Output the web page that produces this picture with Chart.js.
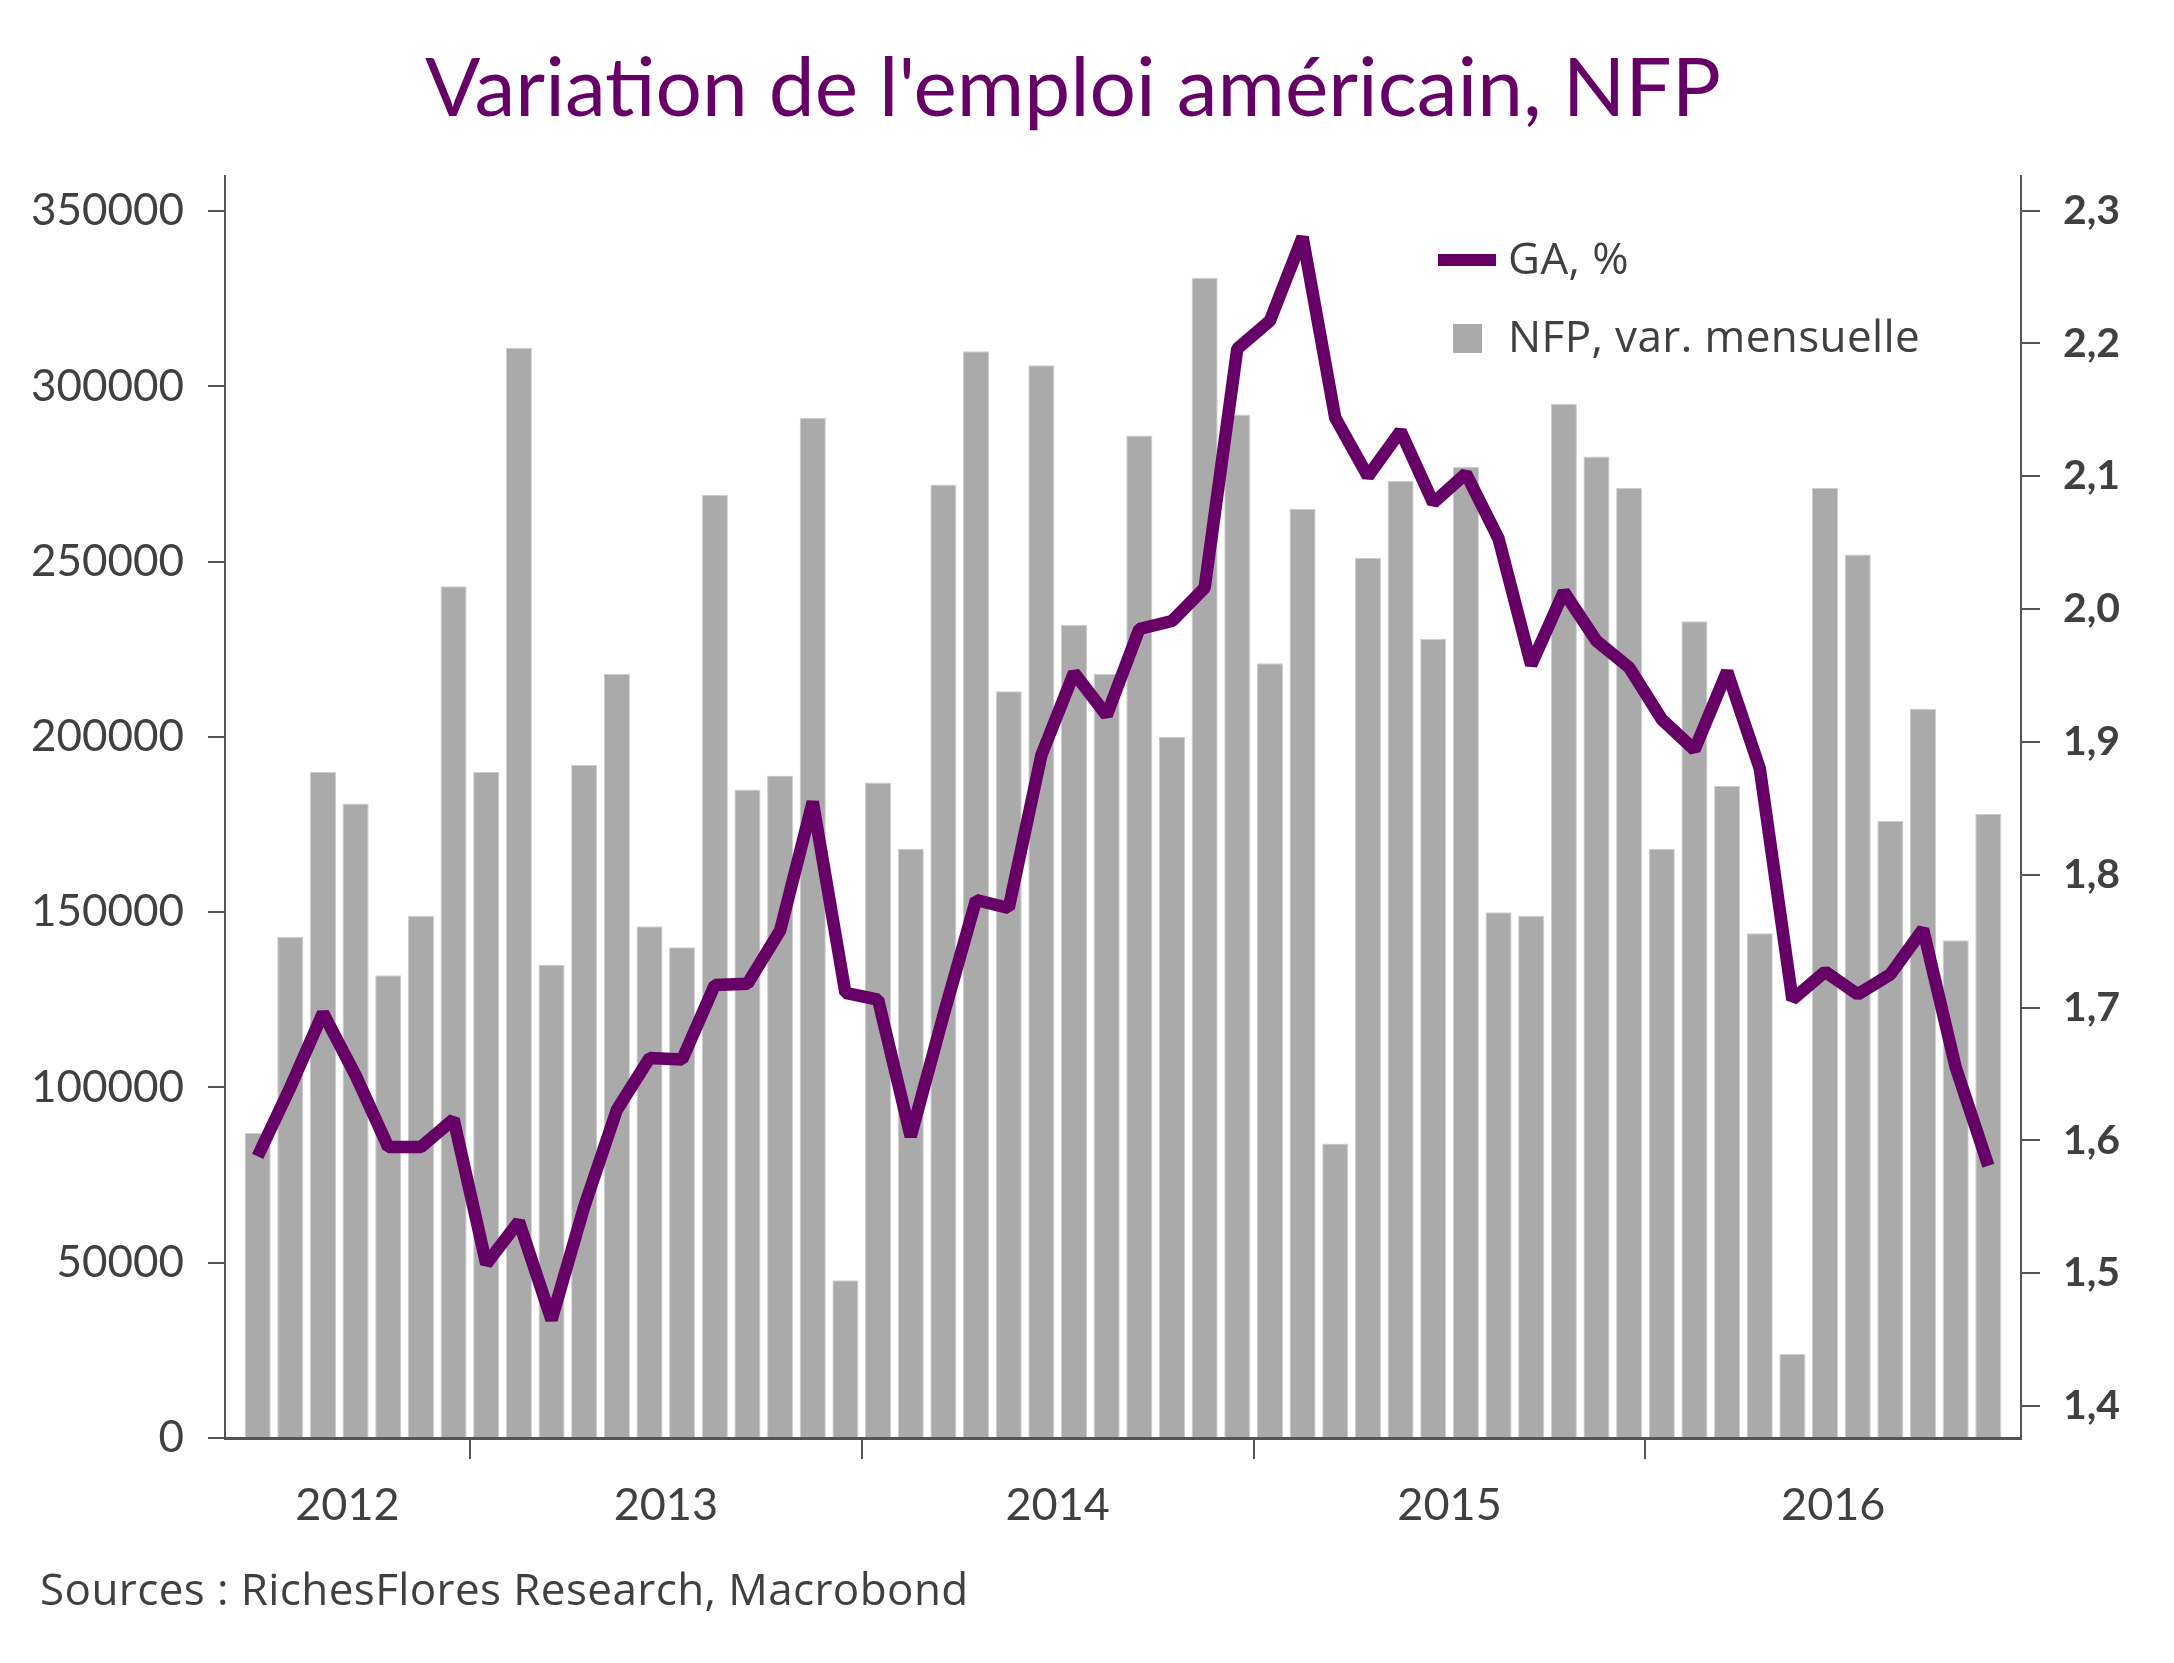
<!DOCTYPE html>
<html>
<head>
<meta charset="utf-8">
<script src="https://cdn.jsdelivr.net/npm/chart.js@4.4.1/dist/chart.umd.min.js"></script>
<style>
  html, body { margin: 0; padding: 0; background: #ffffff; }
  #wrap { position: relative; width: 2174px; height: 1663px; overflow: hidden; }
  #chart { position: absolute; left: 0; top: 0; }
  .txt { position: absolute; white-space: nowrap; }
  #title { left: -14px; width: 2174px; top: 34px; text-align: center; font-family: Lato, sans-serif; font-size: 82px; line-height: 100px; color: #660066; }
  #sources { left: 40px; top: 1560px; font-family: "Open Sans", sans-serif; font-size: 44px; letter-spacing: 0.4px; line-height: 56px; color: #404040; }
  .legtxt { font-family: "Open Sans", sans-serif; font-size: 44px; letter-spacing: 0.4px; line-height: 50px; color: #404040; left: 1508px; }
  #legLine { position: absolute; left: 1438px; top: 254px; width: 58px; height: 12px; background: #660066; }
  #legSq { position: absolute; left: 1453px; top: 324px; width: 29px; height: 29px; background: #aaaaaa; }
</style>
</head>
<body>
<div id="wrap">
  <canvas id="chart" width="2174" height="1663"></canvas>
  <div id="title" class="txt">Variation de l'emploi américain, NFP</div>
  <div id="legLine"></div>
  <div class="txt legtxt" style="top:232px;">GA, %</div>
  <div id="legSq"></div>
  <div class="txt legtxt" style="top:310px;">NFP, var. mensuelle</div>
  <div id="sources" class="txt">Sources : RichesFlores Research, Macrobond</div>
</div>
<script>
// ---- Data ----
const months = [
  '2012-06','2012-07','2012-08','2012-09','2012-10','2012-11','2012-12',
  '2013-01','2013-02','2013-03','2013-04','2013-05','2013-06','2013-07','2013-08','2013-09','2013-10','2013-11','2013-12',
  '2014-01','2014-02','2014-03','2014-04','2014-05','2014-06','2014-07','2014-08','2014-09','2014-10','2014-11','2014-12',
  '2015-01','2015-02','2015-03','2015-04','2015-05','2015-06','2015-07','2015-08','2015-09','2015-10','2015-11','2015-12',
  '2016-01','2016-02','2016-03','2016-04','2016-05','2016-06','2016-07','2016-08','2016-09','2016-10','2016-11'
];
// Axis range extends one month on each side of the data
const axisStart = '2012-05';
const axisEnd = '2016-12';

const nfp = [
  87000,143000,190000,181000,132000,149000,243000,
  190000,311000,135000,192000,218000,146000,140000,269000,185000,189000,291000,45000,
  187000,168000,272000,310000,213000,306000,232000,218000,286000,200000,331000,292000,
  221000,265000,84000,251000,273000,228000,277000,150000,149000,295000,280000,271000,
  168000,233000,186000,144000,24000,271000,252000,176000,208000,142000,178000
];
const ga = [
  1.588,1.640,1.696,1.649,1.595,1.595,1.616,
  1.507,1.539,1.465,1.550,1.623,1.662,1.661,1.717,1.718,1.758,1.855,1.711,
  1.706,1.603,1.694,1.781,1.775,1.890,1.952,1.920,1.985,1.991,2.016,2.196,
  2.217,2.280,2.144,2.100,2.134,2.080,2.102,2.053,1.958,2.013,1.976,1.956,
  1.917,1.894,1.953,1.880,1.706,1.727,1.710,1.725,1.759,1.655,1.581
];
const years = ['2012','2013','2014','2015','2016'];
const leftTicks = [0,50000,100000,150000,200000,250000,300000,350000];
const rightTicks = [1.4,1.5,1.6,1.7,1.8,1.9,2.0,2.1,2.2,2.3];
const leftRange = [0, 360000];
const rightRange = [1.376, 2.326];

// ---- Build ----
const axisLabels = [axisStart, ...months, axisEnd];
const barData = [null, ...nfp, null];
const lineData = [null, ...ga, null];
const lastIdx = axisLabels.length - 1;

const yearTicks = [];
years.forEach(y => {
  const idx = axisLabels.map((l, i) => l.startsWith(y) ? i : -1).filter(i => i >= 0);
  const a = Math.max(idx[0] - 0.5, 0);
  const b = Math.min(idx[idx.length - 1] + 0.5, lastIdx);
  yearTicks.push({ value: (a + b) / 2, label: y, bound: false });
  if (idx[0] - 0.5 > 0) yearTicks.push({ value: idx[0] - 0.5, label: '', bound: true });
});
yearTicks.sort((p, q) => p.value - q.value);
const findYT = v => yearTicks.find(t => Math.abs(t.value - v) < 1e-6);

const axisColor = '#555555';
const textColor = '#404040';

new Chart(document.getElementById('chart'), {
  data: {
    labels: axisLabels,
    datasets: [
      {
        type: 'line',
        label: 'GA, %',
        data: lineData,
        yAxisID: 'y1',
        xAxisID: 'x',
        borderColor: '#660066',
        backgroundColor: '#660066',
        borderWidth: 12.5,
        pointRadius: 0,
        tension: 0,
        borderJoinStyle: 'bevel',
        borderCapStyle: 'butt',
        spanGaps: false,
        order: 0
      },
      {
        type: 'bar',
        label: 'NFP, var. mensuelle',
        data: barData,
        yAxisID: 'y',
        xAxisID: 'x',
        backgroundColor: '#aaaaaa',
        borderColor: '#cdcdcd',
        borderWidth: 1,
        borderSkipped: 'bottom',
        barPercentage: 0.8,
        categoryPercentage: 1.0,
        order: 1
      }
    ]
  },
  options: {
    responsive: false,
    devicePixelRatio: 1,
    animation: false,
    layout: { padding: { top: 176, bottom: 0, left: 0, right: 0 } },
    plugins: {
      legend: { display: false },
      title: { display: false },
      tooltip: { enabled: false }
    },
    scales: {
      x: {
        type: 'category',
        display: false,
        offset: false
      },
      xYears: {
        type: 'linear',
        position: 'bottom',
        min: 0,
        max: lastIdx,
        afterBuildTicks: s => { s.ticks = yearTicks.map(t => ({ value: t.value })); },
        afterFit: s => { s.height = 1663 - 1438; },
        border: { display: true, color: axisColor, width: 3 },
        grid: {
          drawOnChartArea: false,
          drawTicks: true,
          tickLength: 21,
          lineWidth: 2,
          color: ctx => {
            const t = ctx.tick ? findYT(ctx.tick.value) : null;
            return (t && t.bound) ? axisColor : 'rgba(0,0,0,0)';
          }
        },
        ticks: {
          autoSkip: false,
          maxRotation: 0,
          padding: 19,
          color: textColor,
          font: { family: 'Lato', size: 45 },
          callback: v => { const t = findYT(v); return t ? t.label : ''; }
        }
      },
      y: {
        type: 'linear',
        position: 'left',
        min: leftRange[0],
        max: leftRange[1],
        afterBuildTicks: s => { s.ticks = leftTicks.map(v => ({ value: v })); },
        afterFit: s => { s.width = 225; },
        border: { display: true, color: axisColor, width: 2 },
        grid: { drawOnChartArea: false, drawTicks: true, tickLength: 17, color: axisColor, lineWidth: 2 },
        ticks: {
          padding: 24,
          color: textColor,
          font: { family: 'Lato', size: 44 },
          callback: v => String(v)
        }
      },
      y1: {
        type: 'linear',
        position: 'right',
        min: rightRange[0],
        max: rightRange[1],
        afterBuildTicks: s => { s.ticks = rightTicks.map(v => ({ value: v })); },
        afterFit: s => { s.width = 2174 - 2021; },
        border: { display: true, color: axisColor, width: 2 },
        grid: { drawOnChartArea: false, drawTicks: true, tickLength: 19, color: axisColor, lineWidth: 2 },
        ticks: {
          padding: 23,
          color: textColor,
          font: { family: 'Lato', size: 41, weight: 'bold' },
          callback: v => v.toFixed(1).replace('.', ',')
        }
      }
    }
  }
});
</script>
</body>
</html>
